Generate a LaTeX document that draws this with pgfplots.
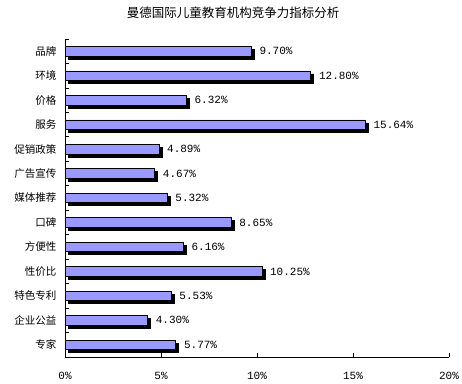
\documentclass[border=0pt]{standalone}
\usepackage{pgfplots}
\pgfplotsset{compat=1.18}
\usepackage{pgfplotstable}
\usepackage{fontspec}
\setmainfont{Liberation Sans}
\newfontfamily\cjk{Noto Sans CJK SC}
\newfontfamily\mono{Liberation Mono}
\definecolor{barc}{RGB}{153,153,255}
\pgfplotstableread{
y x lab
0 9.70 9.70
1 12.80 12.80
2 6.32 6.32
3 15.64 15.64
4 4.89 4.89
5 4.67 4.67
6 5.32 5.32
7 8.65 8.65
8 6.16 6.16
9 10.25 10.25
10 5.53 5.53
11 4.30 4.30
12 5.77 5.77
}\data
\begin{document}
\begin{tikzpicture}[x=1pt,y=1pt]
\useasboundingbox (0,0) rectangle (462,383);
\node at (233,370) {\cjk\fontsize{12.5}{14}\selectfont 曼德国际儿童教育机构竞争力指标分析};
\begin{axis}[
  at={(65pt,26pt)}, anchor=south west,
  scale only axis, width=384pt, height=318pt,
  xbar, bar width=9.5pt,
  xmin=0, xmax=20, ymin=-0.5, ymax=12.5, y dir=reverse,
  axis x line*=bottom, axis y line*=left,
  axis line style={black, line width=0.8pt},
  xtick={0,5,10,15,20},
  xticklabels={0\%,5\%,10\%,15\%,20\%},
  xticklabel style={font=\mono\fontsize{11}{13}\selectfont, yshift=-12pt},
  ytick={0,...,12},
  yticklabels={品牌,环境,价格,服务,促销政策,广告宣传,媒体推荐,口碑,方便性,性价比,特色专利,企业公益,专家},
  yticklabel style={font=\cjk\fontsize{10.5}{12}\selectfont, xshift=-5pt},
  tick align=inside,
  major tick length=4pt,
  y tick style={draw=none},
  minor ytick={-0.5,0.5,...,12.5},
  minor tick length=4pt,
  minor y tick style={draw=black, line width=0.8pt},
  x tick style={black, line width=0.8pt},
  clip=false,
  nodes near coords={\mono\fontsize{11}{13}\selectfont\pgfplotspointmeta\%},
  point meta=explicit symbolic,
  nodes near coords style={anchor=west, xshift=7pt, inner sep=1pt},
]
\addplot[fill=barc, draw=black, line width=0.6pt,
  preaction={fill=black, draw=black, transform canvas={xshift=3pt, yshift=-3pt}}]
  table[x=x, y=y, meta=lab] {\data};
\end{axis}
\end{tikzpicture}
\end{document}
